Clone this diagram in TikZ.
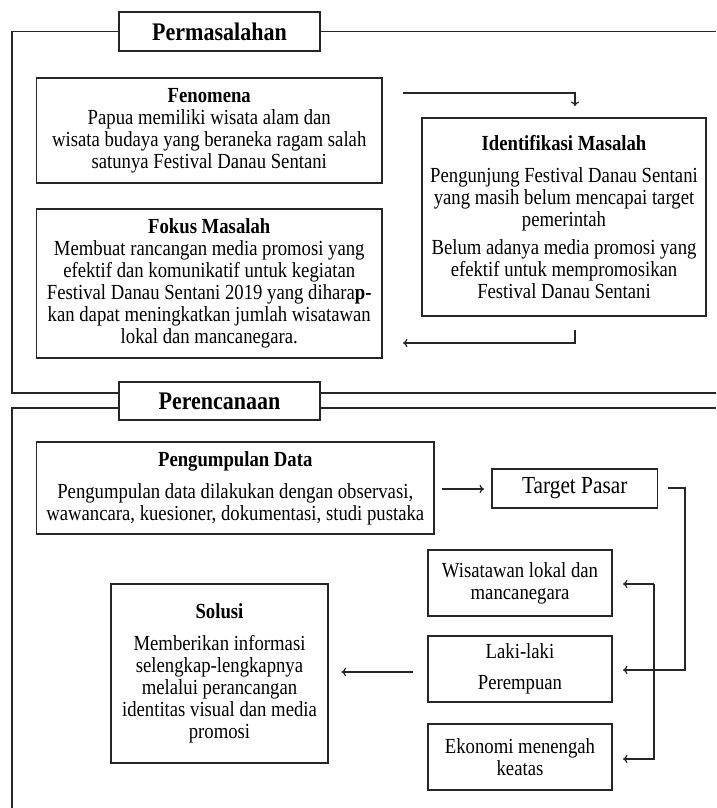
\documentclass[tikz,border=0pt]{standalone}
\usepackage{fontspec}
\setmainfont{Liberation Serif}[FakeStretch=0.87]
\usetikzlibrary{arrows.meta,calc}
\begin{document}
\begin{tikzpicture}[x=1pt,y=-1pt,
  box/.style={draw=black!85,line width=1.3pt,inner sep=0pt,align=center,
    font=\fontsize{21.5}{22}\selectfont},
  head/.style={draw=black!85,line width=1.3pt,inner sep=0pt,
    font=\fontsize{25.3}{26}\selectfont\bfseries,minimum width=201pt},
  frame/.style={draw=black!85,line width=1.2pt},
  arr/.style={draw=black!85,line width=1.2pt,-{To[length=4.5pt,width=8.5pt]}}]
\useasboundingbox (0,0) rectangle (716,808);
% headers
\node[head,minimum height=39pt] (perm) at (219.5,31.5) {Permasalahan};
\node[head,minimum height=38pt] (perc) at (219.5,401) {Perencanaan};
% frames
\draw[frame] (perm.west) -| (12,393) -- ($(perc.west)+(0,-8)$);
\draw[frame] (perm.east) -- (716,31.5);
\draw[frame] ($(perc.east)+(0,-8)$) -- (716,393);
\draw[frame] ($(perc.west)+(0,7)$) -| (12,808);
\draw[frame] ($(perc.east)+(0,7)$) -- (716,408);
% boxes
\node[box,minimum width=345.5pt,minimum height=105pt] (fen) at (209.25,130.5)
  {\textbf{Fenomena}\\Papua memiliki wisata alam dan\\wisata budaya yang beraneka ragam salah\\satunya Festival Danau Sentani};
\node[box,minimum width=345.5pt,minimum height=149pt] (fok) at (209.25,283.5)
  {\textbf{Fokus Masalah}\\Membuat rancangan media promosi yang\\efektif dan komunikatif untuk kegiatan\\Festival Danau Sentani 2019 yang dihara\textbf{p-}\\kan dapat meningkatkan jumlah wisatawan\\lokal dan mancanegara.};
\node[box,minimum width=284pt,minimum height=198pt] (ide) at (564,217)
  {\textbf{Identifikasi Masalah}\\[10pt]Pengunjung Festival Danau Sentani\\yang masih belum mencapai target\\pemerintah\\[5.5pt]Belum adanya media promosi yang\\efektif untuk mempromosikan\\Festival Danau Sentani};
\node[box,minimum width=397.5pt,minimum height=92pt] (pd) at (235.25,488)
  {\textbf{Pengumpulan Data}\\[10pt]Pengumpulan data dilakukan dengan observasi,\\wawancara, kuesioner, dokumentasi, studi pustaka};
\node[box,minimum width=165.5pt,minimum height=39pt,font=\fontsize{24.5}{26}\selectfont] (tp) at (574.75,488.5) {Target Pasar};
\node[box,minimum width=184pt,minimum height=66pt] (wis) at (520,583) {Wisatawan lokal dan\\mancanegara};
\node[box,minimum width=184pt,minimum height=66pt] (lak) at (520,669) {Laki-laki\\[9pt]Perempuan};
\node[box,minimum width=184pt,minimum height=66pt] (eko) at (520,757) {Ekonomi menengah\\keatas};
\node[box,minimum width=217pt,minimum height=179pt] (sol) at (219.5,673.5)
  {\textbf{Solusi}\\[10pt]Memberikan informasi\\selengkap-lengkapnya\\melalui perancangan\\identitas visual dan media\\promosi};
% connector coordinates
\coordinate (a1) at (403,93);
\coordinate (a2) at (575,106);
\coordinate (b1) at (575,330);
\coordinate (b2) at (403,343);
\coordinate (c1) at (442,489);
\coordinate (c2) at (484,489);
\coordinate (d1) at (667.5,488);
\coordinate (d2) at (623,670);
\coordinate (e0) at (654,584);
\coordinate (e1) at (623,584);
\coordinate (e2) at (623,759);
\coordinate (f1) at (413,672);
\coordinate (f2) at (341.5,672);
% connectors
\draw[arr] (a1) -| (a2);
\draw[arr] (b1) |- (b2);
\draw[arr] (c1) -- (c2);
\draw[arr] (d1) -- (685,488) |- (d2);
\draw[arr] (e0) -- (e1);
\draw[arr] (e0) |- (e2);
\draw[arr] (f1) -- (f2);
\end{tikzpicture}
\end{document}
